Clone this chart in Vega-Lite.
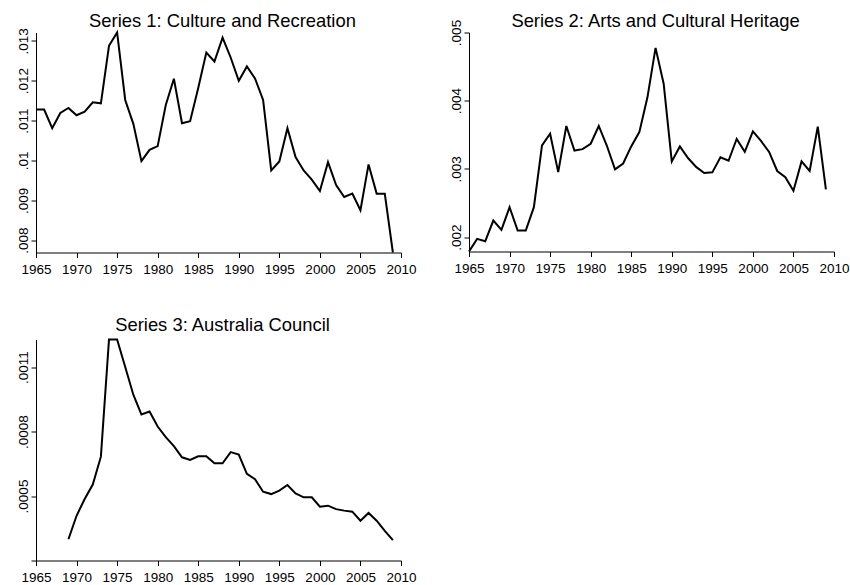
{
  "$schema": "https://vega.github.io/schema/vega-lite/v6.json",
  "background": "white",
  "padding": {"left": 15, "top": 11.5, "right": 5, "bottom": 0},
  "config": {
    "view": {"stroke": null},
    "font": "Liberation Sans",
    "title": {"font": "Liberation Sans", "fontSize": 18.4, "fontWeight": "normal", "color": "black", "anchor": "middle"},
    "axis": {"grid": false, "title": null, "domainColor": "black", "domainWidth": 1, "tickColor": "black", "tickWidth": 1, "tickSize": 5, "labelColor": "black", "labelFont": "Liberation Sans", "labelFontSize": 13.5, "labelOverlap": false, "labelFlush": false},
    "line": {"color": "black", "strokeWidth": 2}
  },
  "datasets": {
    "s1": [
      {"year": 1965, "value": 0.011275}, {"year": 1966, "value": 0.011275}, {"year": 1967, "value": 0.010808},
      {"year": 1968, "value": 0.011192}, {"year": 1969, "value": 0.011317}, {"year": 1970, "value": 0.011133},
      {"year": 1971, "value": 0.011225}, {"year": 1972, "value": 0.011458}, {"year": 1973, "value": 0.011433},
      {"year": 1974, "value": 0.012875}, {"year": 1975, "value": 0.01321}, {"year": 1976, "value": 0.011517},
      {"year": 1977, "value": 0.010917}, {"year": 1978, "value": 0.009983}, {"year": 1979, "value": 0.010267},
      {"year": 1980, "value": 0.010358}, {"year": 1981, "value": 0.011392}, {"year": 1982, "value": 0.01205},
      {"year": 1983, "value": 0.010933}, {"year": 1984, "value": 0.010983}, {"year": 1985, "value": 0.011817},
      {"year": 1986, "value": 0.012708}, {"year": 1987, "value": 0.012483}, {"year": 1988, "value": 0.013083},
      {"year": 1989, "value": 0.012583}, {"year": 1990, "value": 0.012}, {"year": 1991, "value": 0.012358},
      {"year": 1992, "value": 0.012058}, {"year": 1993, "value": 0.011517}, {"year": 1994, "value": 0.00975},
      {"year": 1995, "value": 0.009975}, {"year": 1996, "value": 0.010808}, {"year": 1997, "value": 0.010083},
      {"year": 1998, "value": 0.00975}, {"year": 1999, "value": 0.009517}, {"year": 2000, "value": 0.009233},
      {"year": 2001, "value": 0.009958}, {"year": 2002, "value": 0.009383}, {"year": 2003, "value": 0.009083},
      {"year": 2004, "value": 0.009167}, {"year": 2005, "value": 0.00875}, {"year": 2006, "value": 0.0099},
      {"year": 2007, "value": 0.009167}, {"year": 2008, "value": 0.009167}, {"year": 2009, "value": 0.00769}
    ],
    "s2": [
      {"year": 1965, "value": 0.00179}, {"year": 1966, "value": 0.001975}, {"year": 1967, "value": 0.00194},
      {"year": 1968, "value": 0.002244}, {"year": 1969, "value": 0.002107}, {"year": 1970, "value": 0.00244},
      {"year": 1971, "value": 0.002097}, {"year": 1972, "value": 0.002097}, {"year": 1973, "value": 0.00244},
      {"year": 1974, "value": 0.003346}, {"year": 1975, "value": 0.003517}, {"year": 1976, "value": 0.002954},
      {"year": 1977, "value": 0.00363}, {"year": 1978, "value": 0.00327}, {"year": 1979, "value": 0.00329},
      {"year": 1980, "value": 0.00337}, {"year": 1981, "value": 0.00363}, {"year": 1982, "value": 0.00334},
      {"year": 1983, "value": 0.002995}, {"year": 1984, "value": 0.00308}, {"year": 1985, "value": 0.00333},
      {"year": 1986, "value": 0.00354}, {"year": 1987, "value": 0.00405}, {"year": 1988, "value": 0.004775},
      {"year": 1989, "value": 0.00425}, {"year": 1990, "value": 0.00311}, {"year": 1991, "value": 0.00333},
      {"year": 1992, "value": 0.00316}, {"year": 1993, "value": 0.00303}, {"year": 1994, "value": 0.00294},
      {"year": 1995, "value": 0.00295}, {"year": 1996, "value": 0.00317}, {"year": 1997, "value": 0.00312},
      {"year": 1998, "value": 0.00344}, {"year": 1999, "value": 0.00325}, {"year": 2000, "value": 0.00355},
      {"year": 2001, "value": 0.00341}, {"year": 2002, "value": 0.00325}, {"year": 2003, "value": 0.00297},
      {"year": 2004, "value": 0.00288}, {"year": 2005, "value": 0.00268}, {"year": 2006, "value": 0.00311},
      {"year": 2007, "value": 0.00297}, {"year": 2008, "value": 0.00362}, {"year": 2009, "value": 0.0027}
    ],
    "s3": [
      {"year": 1969, "value": 0.000299}, {"year": 1970, "value": 0.000408}, {"year": 1971, "value": 0.000486},
      {"year": 1972, "value": 0.000553}, {"year": 1973, "value": 0.000683}, {"year": 1974, "value": 0.001228},
      {"year": 1975, "value": 0.001228}, {"year": 1976, "value": 0.0011}, {"year": 1977, "value": 0.000971},
      {"year": 1978, "value": 0.000879}, {"year": 1979, "value": 0.000893}, {"year": 1980, "value": 0.000823},
      {"year": 1981, "value": 0.000774}, {"year": 1982, "value": 0.000732}, {"year": 1983, "value": 0.00068},
      {"year": 1984, "value": 0.000668}, {"year": 1985, "value": 0.000685}, {"year": 1986, "value": 0.000685},
      {"year": 1987, "value": 0.000652}, {"year": 1988, "value": 0.000652}, {"year": 1989, "value": 0.000704},
      {"year": 1990, "value": 0.000693}, {"year": 1991, "value": 0.000603}, {"year": 1992, "value": 0.000578},
      {"year": 1993, "value": 0.00052}, {"year": 1994, "value": 0.000509}, {"year": 1995, "value": 0.000525},
      {"year": 1996, "value": 0.000551}, {"year": 1997, "value": 0.000512}, {"year": 1998, "value": 0.000494},
      {"year": 1999, "value": 0.000494}, {"year": 2000, "value": 0.00045}, {"year": 2001, "value": 0.000455},
      {"year": 2002, "value": 0.000439}, {"year": 2003, "value": 0.000432}, {"year": 2004, "value": 0.000427},
      {"year": 2005, "value": 0.000385}, {"year": 2006, "value": 0.000421}, {"year": 2007, "value": 0.000385},
      {"year": 2008, "value": 0.000338}, {"year": 2009, "value": 0.000295}
    ]
  },
  "columns": 2,
  "spacing": {"row": 87, "column": 68},
  "bounds": "flush",
  "concat": [
    {
      "title": {"text": "Series 1: Culture and Recreation", "frame": "group", "offset": -2.3, "dx": 4},
      "width": 365, "height": 220,
      "data": {"name": "s1"},
      "mark": {"type": "line"},
      "encoding": {
        "x": {"field": "year", "type": "quantitative", "scale": {"domain": [1965, 2010], "nice": false, "zero": false},
              "axis": {"values": [1965,1970,1975,1980,1985,1990,1995,2000,2005,2010], "format": "d", "labelFontSize": 13.5, "labelPadding": 5}},
        "y": {"field": "value", "type": "quantitative", "scale": {"domain": [0.00769, 0.01321], "nice": false, "zero": false},
              "axis": {"values": [0.008,0.009,0.01,0.011,0.012,0.013], "labelExpr": "slice(toString(datum.value), 1)", "labelFontSize": 13.5, "labelAngle": -90, "labelAlign": "center", "labelBaseline": "alphabetic", "labelPadding": 4}}
      }
    },
    {
      "title": {"text": "Series 2: Arts and Cultural Heritage", "frame": "group", "offset": -10.8, "dx": 4},
      "width": 365, "height": 219,
      "data": {"name": "s2"},
      "mark": {"type": "line"},
      "encoding": {
        "x": {"field": "year", "type": "quantitative", "scale": {"domain": [1965, 2010], "nice": false, "zero": false},
              "axis": {"values": [1965,1970,1975,1980,1985,1990,1995,2000,2005,2010], "format": "d", "labelFontSize": 13.5, "labelPadding": 5}},
        "y": {"field": "value", "type": "quantitative", "scale": {"domain": [0.00179, 0.005], "nice": false, "zero": false},
              "axis": {"values": [0.002,0.003,0.004,0.005], "labelExpr": "slice(toString(datum.value), 1)", "labelFontSize": 13.5, "labelAngle": -90, "labelAlign": "center", "labelBaseline": "alphabetic", "labelPadding": 4}}
      }
    },
    {
      "title": {"text": "Series 3: Australia Council", "frame": "group", "offset": 1.3, "dx": 4},
      "width": 365, "height": 221,
      "data": {"name": "s3"},
      "mark": {"type": "line"},
      "encoding": {
        "x": {"field": "year", "type": "quantitative", "scale": {"domain": [1965, 2010], "nice": false, "zero": false},
              "axis": {"values": [1965,1970,1975,1980,1985,1990,1995,2000,2005,2010], "format": "d", "labelFontSize": 13.5, "labelPadding": 5}},
        "y": {"field": "value", "type": "quantitative", "scale": {"domain": [0.0002, 0.001228], "nice": false, "zero": false},
              "axis": {"values": [0.0002,0.0005,0.0008,0.0011], "labelExpr": "datum.value < 0.0003 ? '' : slice(toString(datum.value), 1)", "labelFontSize": 13.5, "labelAngle": -90, "labelAlign": "center", "labelBaseline": "alphabetic", "labelPadding": 4}}
      }
    }
  ]
}
